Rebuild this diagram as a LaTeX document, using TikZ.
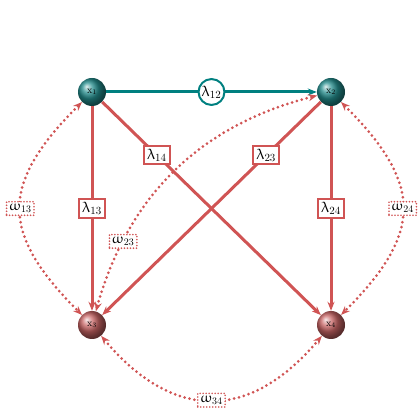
\documentclass[tikz,border=0pt]{standalone}
\usepackage{upgreek}
\usetikzlibrary{arrows.meta,shapes.geometric}
\definecolor{tealc}{RGB}{0,128,128}
\definecolor{redc}{RGB}{208,84,84}
\definecolor{tball}{RGB}{35,140,140}
\definecolor{rball}{RGB}{200,100,100}
\begin{document}
\begin{tikzpicture}[x=1pt,y=1pt,
  ballnode/.style={circle,minimum size=28pt,inner sep=0pt,shading=ball,text=black,font=\fontsize{10}{11}\selectfont},
  tealball/.style={ballnode,ball color=tball},
  redball/.style={ballnode,ball color=rball},
  tipend/.style={-{Stealth[length=9pt,width=7pt]}},
  solidred/.style={draw=redc,line width=3pt,tipend},
  solidteal/.style={draw=tealc,line width=3pt,tipend},
  dotline/.style={draw=redc,line width=3pt,dash pattern=on 0pt off 5pt,line cap=round,{Stealth[length=9pt,width=7pt]}-{Stealth[length=9pt,width=7pt]}},
  lbox/.style={draw=redc,line width=2pt,fill=white,inner sep=3pt,font=\fontsize{15}{17}\selectfont},
  lcirc/.style={circle,draw=tealc,line width=2pt,fill=white,inner sep=1pt,font=\fontsize{15}{17}\selectfont},
  wbox/.style={draw=redc,line width=1.8pt,dash pattern=on 0pt off 3pt,line cap=round,fill=white,inner sep=2.5pt,font=\fontsize{14}{16}\selectfont}
  ]
\useasboundingbox (0,0) rectangle (420,420);
\node[tealball] (x1) at (92,328) {$\mathrm{x}_1$};
\node[tealball] (x2) at (331,328) {$\mathrm{x}_2$};
\node[redball] (x3) at (92,95) {$\mathrm{x}_3$};
\node[redball] (x4) at (331,95) {$\mathrm{x}_4$};

\draw[solidteal] (x1) -- node[lcirc] (l12) {$\uplambda_{12}$} (x2);
\draw[solidred] (x1) -- node[lbox] (l13) {$\uplambda_{13}$} (x3);
\draw[solidred] (x1) -- node[lbox,pos=0.25] (l14) {$\uplambda_{14}$} (x4);
\draw[solidred] (x2) -- node[lbox,pos=0.25] (l23) {$\uplambda_{23}$} (x3);
\draw[solidred] (x2) -- node[lbox] (l24) {$\uplambda_{24}$} (x4);

\draw[dotline] (x1) to[bend right=45,looseness=1.4] node[wbox] (w13) {$\upomega_{13}$} (x3);
\draw[dotline] (x2) to[bend left=45,looseness=1.4] node[wbox] (w24) {$\upomega_{24}$} (x4);
\draw[dotline] (x3) to[bend right=50,looseness=1.3] node[wbox] (w34) {$\upomega_{34}$} (x4);
\draw[dotline] (x3) to[bend left=30] node[wbox,pos=0.22] (w23) {$\upomega_{23}$} (x2);
\end{tikzpicture}
\end{document}
